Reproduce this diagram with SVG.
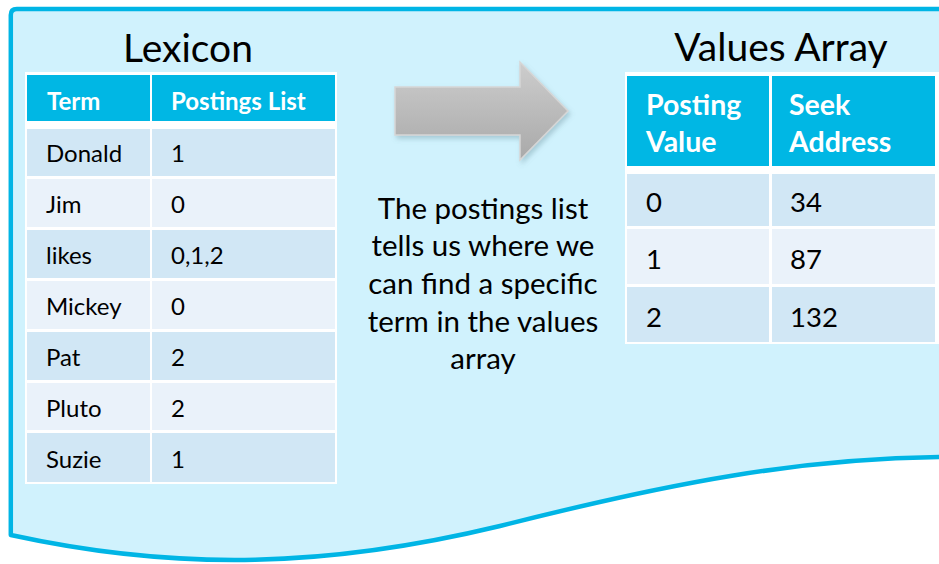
<svg xmlns="http://www.w3.org/2000/svg" width="939" height="564" viewBox="0 0 939 564">
  <defs>
    <linearGradient id="arrowFill" x1="0" y1="0" x2="0" y2="1">
      <stop offset="0" stop-color="#CDCDCD"/>
      <stop offset="1" stop-color="#A9A9A9"/>
    </linearGradient>
    <filter id="soft" x="-20%" y="-20%" width="140%" height="150%">
      <feDropShadow dx="2" dy="3" stdDeviation="2.5" flood-color="#5A7F8C" flood-opacity="0.35"/>
    </filter>
  </defs>
  <style>
    .title { font-family: Lato, "Open Sans", sans-serif; font-size: 39px; fill: #000; }
    .hdr { font-family: Lato, "Open Sans", sans-serif; font-weight: bold; fill: #fff; }
    .hdr-s { font-size: 24px; }
    .hdr-l { font-size: 28.5px; }
    .cell { font-family: Lato, "Open Sans", sans-serif; fill: #000; }
    .cell-s { font-size: 24px; }
    .cell-l { font-size: 27.5px; }
    .note { font-family: Lato, "Open Sans", sans-serif; font-size: 29.5px; fill: #000; text-anchor: middle; }
    .h { fill: #00B7E4; }
    .d { fill: #D1E7F5; }
    .l { fill: #EAF2FA; }
  </style>

  <!-- page background with wavy lower edge -->
  <path id="page" d="M10.8,15 Q10.8,9 16.8,9 L945,9 L945,457 C800,458 670,483 500,526 C330,567 180,572 10.8,535 Z"
        fill="#D0F2FD" stroke="#00B5E5" stroke-width="4.5" stroke-linejoin="round"/>

  <!-- Lexicon table -->
  <g id="lexicon">
    <text class="title" x="188" y="62" text-anchor="middle">Lexicon</text>
    <rect x="25" y="72" width="312" height="412" fill="#FFFFFF"/>
    <rect class="h" x="27" y="75" width="123" height="46"/>
    <rect class="h" x="152" y="75" width="183" height="46"/>
    <text class="hdr hdr-s" x="47" y="110">Term</text>
    <text class="hdr hdr-s" x="171" y="110">Postings List</text>

    <g id="lex-rows">
      <rect class="d" x="27" y="129" width="123" height="47"/><rect class="d" x="152" y="129" width="183" height="47"/>
      <rect class="l" x="27" y="179" width="123" height="48"/><rect class="l" x="152" y="179" width="183" height="48"/>
      <rect class="d" x="27" y="230" width="123" height="48"/><rect class="d" x="152" y="230" width="183" height="48"/>
      <rect class="l" x="27" y="281" width="123" height="48"/><rect class="l" x="152" y="281" width="183" height="48"/>
      <rect class="d" x="27" y="332" width="123" height="48"/><rect class="d" x="152" y="332" width="183" height="48"/>
      <rect class="l" x="27" y="383" width="123" height="47"/><rect class="l" x="152" y="383" width="183" height="47"/>
      <rect class="d" x="27" y="433" width="123" height="49"/><rect class="d" x="152" y="433" width="183" height="49"/>

      <text class="cell cell-s" x="46" y="162">Donald</text><text class="cell cell-s" x="171" y="162">1</text>
      <text class="cell cell-s" x="46" y="213">Jim</text><text class="cell cell-s" x="171" y="213">0</text>
      <text class="cell cell-s" x="46" y="264">likes</text><text class="cell cell-s" x="171" y="264">0,1,2</text>
      <text class="cell cell-s" x="46" y="315">Mickey</text><text class="cell cell-s" x="171" y="315">0</text>
      <text class="cell cell-s" x="46" y="366">Pat</text><text class="cell cell-s" x="171" y="366">2</text>
      <text class="cell cell-s" x="46" y="417">Pluto</text><text class="cell cell-s" x="171" y="417">2</text>
      <text class="cell cell-s" x="46" y="468">Suzie</text><text class="cell cell-s" x="171" y="468">1</text>
    </g>
  </g>

  <!-- block arrow between the tables -->
  <g id="connectors">
    <path id="arrow" d="M395,87 L520,87 L520,62 L568,111 L520,160 L520,135 L395,135 Z"
          fill="url(#arrowFill)" stroke="#D6D6D6" stroke-width="1.5" filter="url(#soft)"/>
  </g>

  <!-- explanatory note -->
  <g id="note">
    <text class="note" x="483" y="219">The postings list</text>
    <text class="note" x="483" y="256">tells us where we</text>
    <text class="note" x="483" y="294">can find a specific</text>
    <text class="note" x="483" y="332">term in the values</text>
    <text class="note" x="483" y="369">array</text>
  </g>

  <!-- Values Array table -->
  <g id="values-array">
    <text class="title" x="781" y="61" text-anchor="middle">Values Array</text>
    <rect x="625" y="72" width="314" height="272" fill="#FFFFFF"/>
    <rect class="h" x="627" y="76" width="142" height="90"/>
    <rect class="h" x="772" y="76" width="163" height="90"/>
    <text class="hdr hdr-l" x="646" y="115">Posting</text>
    <text class="hdr hdr-l" x="646" y="152">Value</text>
    <text class="hdr hdr-l" x="789" y="115">Seek</text>
    <text class="hdr hdr-l" x="789" y="152">Address</text>

    <rect class="d" x="627" y="174" width="142" height="52"/><rect class="d" x="772" y="174" width="163" height="52"/>
    <rect class="l" x="627" y="229" width="142" height="55"/><rect class="l" x="772" y="229" width="163" height="55"/>
    <rect class="d" x="627" y="287" width="142" height="55"/><rect class="d" x="772" y="287" width="163" height="55"/>

    <text class="cell cell-l" x="646" y="212">0</text><text class="cell cell-l" x="790" y="212">34</text>
    <text class="cell cell-l" x="646" y="269">1</text><text class="cell cell-l" x="790" y="269">87</text>
    <text class="cell cell-l" x="646" y="327">2</text><text class="cell cell-l" x="790" y="327">132</text>
  </g>
</svg>
